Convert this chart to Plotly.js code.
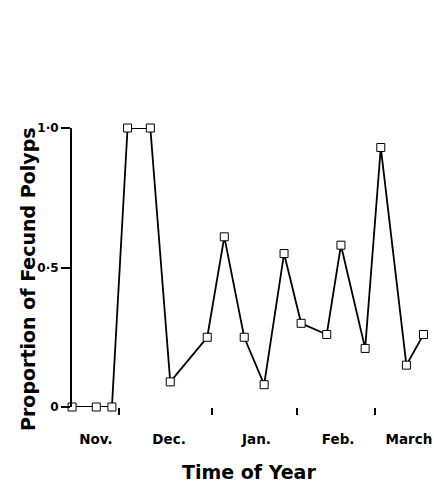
<!DOCTYPE html>
<html>
<head>
<meta charset="utf-8">
<script src="https://cdn.plot.ly/plotly-3.0.1.min.js"></script>
<style>html,body{margin:0;padding:0;background:#fff;overflow:hidden}#chart{width:434px;height:484px}</style>
</head>
<body>
<div id="chart"></div>
<script>
// time position (approx. days from 1 Nov) and proportion of fecund polyps
const xDays = [13.5, 22, 27.5, 33, 41, 48, 61, 67, 74, 81, 88, 94, 103, 108, 116.5, 122, 131, 137];
const proportion = [0, 0, 0, 1.0, 1.0, 0.09, 0.25, 0.61, 0.25, 0.08, 0.55, 0.30, 0.26, 0.58, 0.21, 0.93, 0.15, 0.26];
const monthTickVals = [30, 62.5, 92.5, 120];
const monthLabelPos = [21.9, 47.6, 78.3, 107, 131.9];
const monthNames = ['Nov.', 'Dec.', 'Jan.', 'Feb.', 'March'];
const yTickVals = [0, 0.5, 1.0];
const yTickText = ['0', '0·5', '1·0'];
const xRange = [13.47, 140.7];

const F = 'DejaVu Sans, Arial, sans-serif';

const trace = {
  x: xDays, y: proportion, type: 'scatter', mode: 'lines+markers',
  cliponaxis: false,
  line: {color: '#000', width: 1.8},
  marker: {symbol: 'square', size: 8, color: '#fff', line: {color: '#000', width: 1}},
  hoverinfo: 'skip', showlegend: false
};
const labelTrace = {x: [xRange[0]], y: [0], xaxis: 'x2', yaxis: 'y', mode: 'markers',
  marker: {opacity: 0}, hoverinfo: 'skip', showlegend: false};

const layout = {
  width: 434, height: 484,
  margin: {l: 72, r: 0, t: 128, b: 77},
  paper_bgcolor: '#fff', plot_bgcolor: '#fff',
  font: {family: F, color: '#000'},
  xaxis: {range: xRange, showline: false, showgrid: false, zeroline: false,
    ticks: 'outside', tickvals: monthTickVals, ticklen: 7, tickwidth: 2, tickcolor: '#000',
    showticklabels: false},
  xaxis2: {range: xRange, overlaying: 'x', anchor: 'y', side: 'bottom',
    showline: false, showgrid: false, zeroline: false, ticks: '',
    tickvals: monthLabelPos, ticktext: monthNames, ticklabelstandoff: 22,
    ticklabeloverflow: 'allow',
    tickfont: {family: F, size: 13.5, weight: 'bold', color: '#000'}},
  yaxis: {range: [0, 1], showline: true, linewidth: 2, linecolor: '#000',
    showgrid: false, zeroline: false, ticks: 'outside', ticklen: 9, tickwidth: 2, tickcolor: '#000',
    tickvals: yTickVals, ticktext: yTickText,
    tickfont: {family: F, size: 12, weight: 'bold', color: '#000'}},
  shapes: [{type: 'line', xref: 'x', yref: 'y', x0: 30, x1: xRange[1], y0: -0.006, y1: -0.006,
    line: {color: '#000', width: 2}}],
  annotations: [
    {text: 'Time of Year', xref: 'paper', yref: 'paper', x: 0.49, y: -0.233,
      xanchor: 'center', yanchor: 'middle', showarrow: false,
      font: {family: F, size: 19, weight: 'bold', color: '#000'}},
    {text: 'Proportion of Fecund Polyps', xref: 'paper', yref: 'paper', x: -0.1215, y: 0.459,
      xanchor: 'center', yanchor: 'middle', textangle: -90, showarrow: false,
      font: {family: F, size: 19, weight: 'bold', color: '#000'}}
  ]
};

Plotly.newPlot('chart', [trace, labelTrace], layout, {staticPlot: true, displayModeBar: false});
</script>
</body>
</html>
